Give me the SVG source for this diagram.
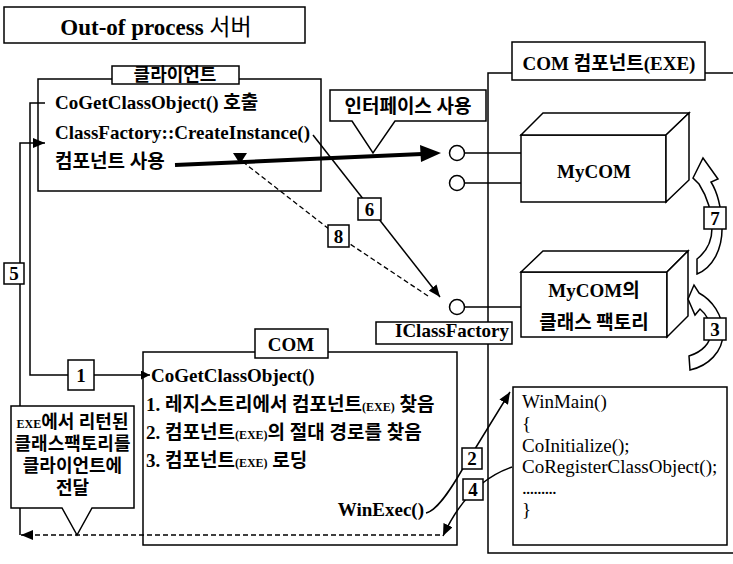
<svg xmlns="http://www.w3.org/2000/svg" width="733" height="564" viewBox="0 0 733 564">
<defs>
<style>
.box{fill:#fff;stroke:#000;stroke-width:1.5}
.ln{fill:none;stroke:#000;stroke-width:1.5}
.dash{fill:none;stroke:#000;stroke-width:1.3;stroke-dasharray:5 3}
.tb{font-family:"Liberation Serif","Noto Sans CJK KR",serif;font-weight:bold;font-size:19px;fill:#000}
.tr{font-family:"Liberation Serif","Noto Sans CJK KR",serif;font-size:19px;fill:#000}
.sm{font-family:"Liberation Serif",serif;font-size:12px;font-weight:bold}
.num{font-family:"Liberation Serif",serif;font-weight:bold;font-size:19px;text-anchor:middle}
.mid{text-anchor:middle}
.co{font-size:18px}
</style>
<marker id="ah" viewBox="0 0 12 10" refX="12" refY="5" markerWidth="12" markerHeight="10" markerUnits="userSpaceOnUse" orient="auto"><path d="M0,0 L12,5 L0,10 z" fill="#000"/></marker>
<marker id="as" viewBox="0 0 9 9" refX="9" refY="4.5" markerWidth="9" markerHeight="9" markerUnits="userSpaceOnUse" orient="auto"><path d="M0,0 L9,4.5 L0,9 z" fill="#000"/></marker>
</defs>
<rect width="733" height="564" fill="#fff"/>

<g id="title">
<rect class="box" x="4" y="7" width="301" height="36"/>
<text class="tb mid" x="156" y="35" style="font-size:23px">Out-of process <tspan style="font-weight:normal">서버</tspan></text>
</g>

<g id="exe-container">
<path class="ln" d="M512,73 H488 V553 H733 M705,73 H733"/>
<rect class="box" x="512" y="42" width="193" height="38"/>
<text class="tb mid" x="609" y="70">COM 컴포넌트(EXE)</text>
</g>

<g id="client">
<rect class="box" x="38" y="79" width="283" height="112"/>
<rect class="box" x="112" y="66" width="127" height="18"/>
<text class="tb mid" x="175" y="81" style="font-size:18px">클라이언트</text>
<text class="tb" x="55" y="109">CoGetClassObject() 호출</text>
<text class="tb" x="55" y="139">ClassFactory::CreateInstance()</text>
<text class="tb" x="55" y="168">컴포넌트 사용</text>
</g>

<g id="interface-callout">
<path class="box" d="M330,90 H486 V121 H395 L373,153 L352,121 H330 Z"/>
<text class="tb mid" x="408" y="113">인터페이스 사용</text>
</g>

<g id="mycom">
<rect class="box" x="521" y="135" width="145" height="67"/>
<path class="box" d="M521,135 L543,113 H689 L666,135 Z"/>
<path class="box" d="M666,135 L689,113 V180 L666,202 Z"/>
<text class="tb mid" x="594" y="178">MyCOM</text>
</g>

<g id="classfactory">
<rect class="box" x="521" y="272" width="146" height="65"/>
<path class="box" d="M521,272 L543,251 H688 L667,272 Z"/>
<path class="box" d="M667,272 L688,251 V316 L667,337 Z"/>
<text class="tb mid" x="594" y="297">MyCOM의</text>
<text class="tb mid" x="594" y="329">클래스 팩토리</text>
</g>

<g id="lollipops">
<path class="ln" d="M464,153 H521 M464,183 H521 M464,307 H521"/>
<circle class="box" cx="457" cy="153" r="7.5"/>
<circle class="box" cx="457" cy="183" r="7.5"/>
<circle class="box" cx="457" cy="307" r="7.5"/>
</g>

<g id="iclassfactory-label">
<rect class="box" x="376" y="322" width="136" height="22"/>
<text class="tb mid" x="452" y="337">IClassFactory</text>
</g>

<g id="com">
<path class="ln" d="M255,352 H143 V545 H457 V352 H328"/>
<rect class="box" x="255" y="329" width="73" height="29"/>
<text class="tb mid" x="291" y="351">COM</text>
<text class="tb" x="151" y="382">CoGetClassObject()</text>
<text class="tb" x="146" y="411">1. 레지스트리에서 컴포넌트<tspan class="sm">(EXE)</tspan> 찾음</text>
<text class="tb" x="146" y="439">2. 컴포넌트<tspan class="sm">(EXE)</tspan>의 절대 경로를 찾음</text>
<text class="tb" x="146" y="467">3. 컴포넌트<tspan class="sm">(EXE)</tspan> 로딩</text>
<text class="tb" x="424" y="516" text-anchor="end">WinExec()</text>
</g>

<g id="winmain">
<rect class="box" x="513" y="387" width="214" height="158"/>
<text class="tr" x="522" y="408">WinMain()</text>
<text class="tr" x="522" y="430">{</text>
<text class="tr" x="522" y="452">CoInitialize();</text>
<text class="tr" x="522" y="473">CoRegisterClassObject();</text>
<text class="tr" x="522" y="494" letter-spacing="-1">.........</text>
<text class="tr" x="522" y="516">}</text>
</g>

<g id="connectors">
<path class="dash" d="M440,535 H21" marker-end="url(#ah)"/>
<path class="ln" d="M20,535 V143 H45" marker-end="url(#ah)"/>
<path class="ln" d="M45,103 H30 V375 H150" marker-end="url(#as)"/>
<path class="ln" d="M313,135 L440,297" marker-end="url(#ah)"/>
<path class="dash" d="M428,296 L338,236 L243,162"/>
<polygon points="233,153 247,153 240,164" fill="#000"/>
<path d="M175,165 L422,154" stroke="#000" stroke-width="4" fill="none"/>
<polygon points="441,153 420,145 421,162" fill="#000"/>
<path class="ln" d="M426,513 C436,511 448,494 462,470 L510,392" marker-end="url(#ah)"/>
<path class="ln" d="M512,467 Q468,482 443,536" marker-end="url(#ah)"/>
<path class="box" d="M697,274 C712,268 723,250 722,225 C721,205 716,190 711,182 L718,179 L703,158 L693,178 L699,184 C706,195 712,210 712,228 C712,242 706,252 697,259 Z"/>
<path class="box" d="M688,299 L694,285 L699,293 C712,300 723,315 723,333 C723,352 708,366 690,370 L689,356 C702,352 711,343 711,332 C711,322 706,314 700,309 L695,315 Z"/>
</g>

<g id="return-callout">
<path class="box" d="M11,406 H134 V508 H92 L77,535 L62,508 H11 Z"/>
<text class="tb mid co" x="72.5" y="428"><tspan class="sm">EXE</tspan>에서 리턴된</text>
<text class="tb mid co" x="72.5" y="450">클래스팩토리를</text>
<text class="tb mid co" x="72.5" y="472">클라이언트에</text>
<text class="tb mid co" x="72.5" y="494">전달</text>
</g>

<g id="step-labels">
<rect class="box" x="4" y="263" width="20" height="21"/><text class="num" x="14" y="280">5</text>
<rect class="box" x="68" y="360" width="26" height="30"/><text class="num" x="81" y="382">1</text>
<rect class="box" x="358" y="198" width="23" height="22"/><text class="num" x="369.5" y="216">6</text>
<rect class="box" x="328" y="225" width="21" height="22"/><text class="num" x="338.5" y="243">8</text>
<rect class="box" x="704" y="207" width="22" height="22"/><text class="num" x="715" y="225">7</text>
<rect class="box" x="704" y="318" width="22" height="22"/><text class="num" x="715" y="336">3</text>
<rect class="box" x="462" y="448" width="20" height="21"/><text class="num" x="472" y="465">2</text>
<rect class="box" x="463" y="479" width="20" height="21"/><text class="num" x="473" y="496">4</text>
</g>
</svg>
